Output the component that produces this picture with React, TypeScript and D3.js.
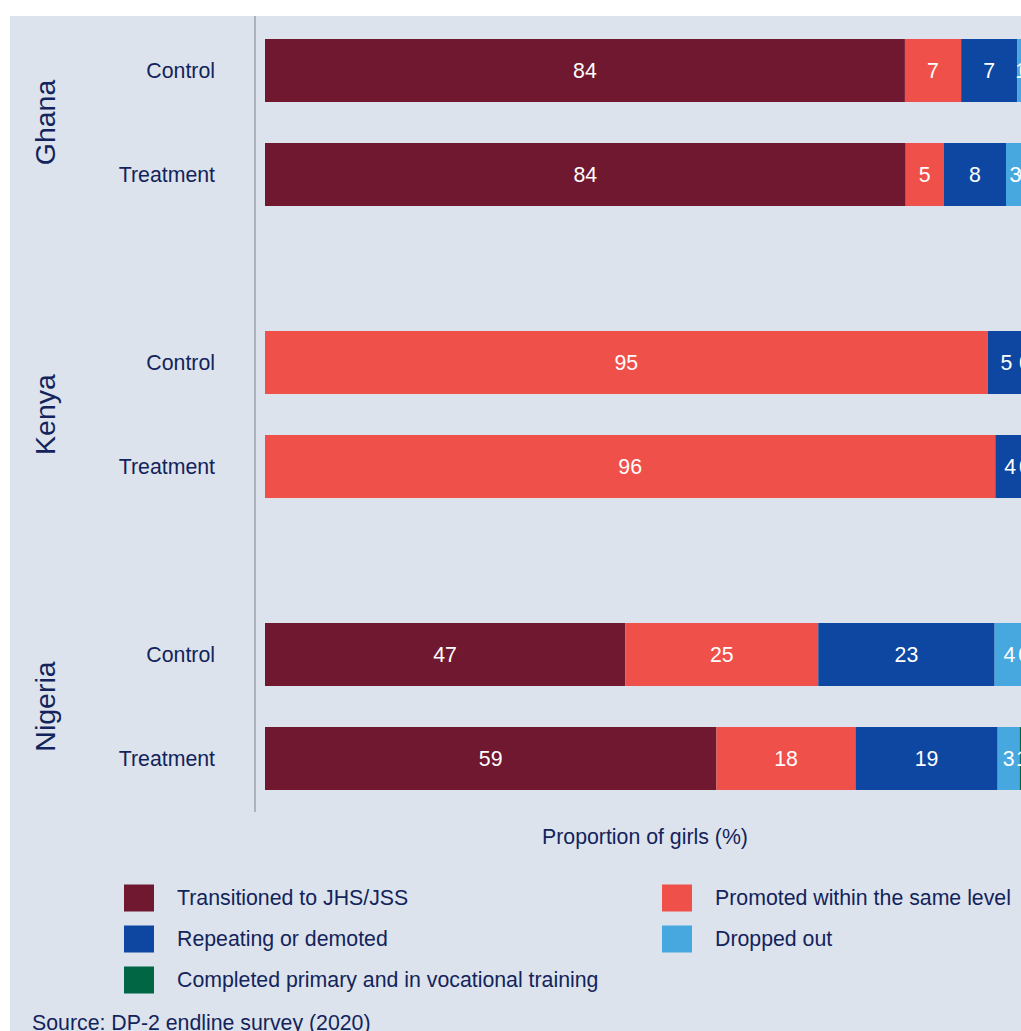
import React from 'react';
import * as d3 from 'd3';

const countries = ['Ghana', 'Kenya', 'Nigeria'];
const arms = ['Control', 'Treatment'];
const categories = [
  'Transitioned to JHS/JSS',
  'Promoted within the same level',
  'Repeating or demoted',
  'Dropped out',
  'Completed primary and in vocational training',
];
const colors = ['#701830', '#f0504a', '#0e47a1', '#47a8e0', '#006644'];

// values per [country][arm] in category order (null = not applicable)
const ghanaControl = [84.2, 7.4, 7.4, 1.0, 0.0];
const ghanaTreatment = [84.3, 5.0, 8.2, 2.5, 0.0];
const kenyaControl = [null, 95.1, 4.9, 0.0, null];
const kenyaTreatment = [null, 96.1, 3.9, 0.0, null];
const nigeriaControl = [47.4, 25.4, 23.2, 3.9, 0.0];
const nigeriaTreatment = [59.4, 18.3, 18.7, 2.9, 0.6];

const rows = [
  { country: 'Ghana', arm: 'Control', values: ghanaControl },
  { country: 'Ghana', arm: 'Treatment', values: ghanaTreatment },
  { country: 'Kenya', arm: 'Control', values: kenyaControl },
  { country: 'Kenya', arm: 'Treatment', values: kenyaTreatment },
  { country: 'Nigeria', arm: 'Control', values: nigeriaControl },
  { country: 'Nigeria', arm: 'Treatment', values: nigeriaTreatment },
];

const xLabel = 'Proportion of girls (%)';
const source = 'Source: DP-2 endline survey (2020)';

const W = 1021;
const H = 1031;
const TXT = '#13235b';
const FONT = '"Liberation Sans", Arial, sans-serif';
const FS = 21.3;

export default function App() {
  const x = d3.scaleLinear().domain([0, 100]).range([265, 1025]);
  const gy = d3.scaleBand<string>().domain(countries).range([-23.5, 852.5]).padding(0);
  const ay = d3
    .scaleBand<string>()
    .domain(arms)
    .range([0, gy.bandwidth()])
    .paddingInner(41 / 104)
    .paddingOuter(0.601);

  const legendCols = [124, 662];
  const legendY0 = 898;
  const legendStep = 41;

  return (
    <svg
      width={W}
      height={H}
      style={{ position: 'absolute', left: 0, top: 0, fontFamily: FONT }}
    >
      <rect x={0} y={0} width={W} height={H} fill="#ffffff" />
      <rect x={10} y={16} width={W - 10} height={H - 16} fill="#dce3ec" />
      <line x1={255} x2={255} y1={16} y2={812} stroke="#aab4c0" strokeWidth={2} />

      {countries.map((c) => {
        const cy = (gy(c) as number) + gy.bandwidth() / 2;
        return (
          <text
            key={c}
            transform={`translate(45,${cy}) rotate(-90)`}
            textAnchor="middle"
            dy="0.35em"
            fontSize={28.5}
            fill={TXT}
          >
            {c}
          </text>
        );
      })}

      {rows.map((r) => {
        const y0 = (gy(r.country) as number) + (ay(r.arm) as number);
        const h = ay.bandwidth();
        let acc = 0;
        const segs = r.values.map((v, i) => {
          if (v === null) return null;
          const s = acc;
          acc += v;
          return { i, v, s, e: acc };
        });
        return (
          <g key={r.country + r.arm}>
            <text
              x={215}
              y={y0 + h / 2}
              dy="0.35em"
              textAnchor="end"
              fontSize={FS}
              fill={TXT}
            >
              {r.arm}
            </text>
            {segs.map((s) =>
              s ? (
                <rect
                  key={'r' + s.i}
                  x={x(s.s)}
                  y={y0}
                  width={Math.max(0, x(s.e) - x(s.s))}
                  height={h}
                  fill={colors[s.i]}
                />
              ) : null
            )}
            {segs.map((s) =>
              s ? (
                <text
                  key={'t' + s.i}
                  x={(x(s.s) + x(s.e)) / 2}
                  y={y0 + h / 2}
                  dy="0.35em"
                  textAnchor="middle"
                  fontSize={FS}
                  fill="#ffffff"
                >
                  {Math.round(s.v)}
                </text>
              ) : null
            )}
          </g>
        );
      })}

      <text x={(x(0) + x(100)) / 2} y={837} dy="0.35em" textAnchor="middle" fontSize={FS} fill={TXT}>
        {xLabel}
      </text>

      {categories.map((c, i) => {
        const col = i % 2;
        const row = Math.floor(i / 2);
        const lx = legendCols[col];
        const ly = legendY0 + row * legendStep;
        return (
          <g key={c}>
            <rect x={lx} y={ly - 13.5} width={30} height={27} fill={colors[i]} />
            <text x={lx + 53} y={ly} dy="0.35em" fontSize={FS} fill={TXT}>
              {c}
            </text>
          </g>
        );
      })}

      <text x={32} y={1030} fontSize={FS} fill={TXT}>
        {source}
      </text>
    </svg>
  );
}
